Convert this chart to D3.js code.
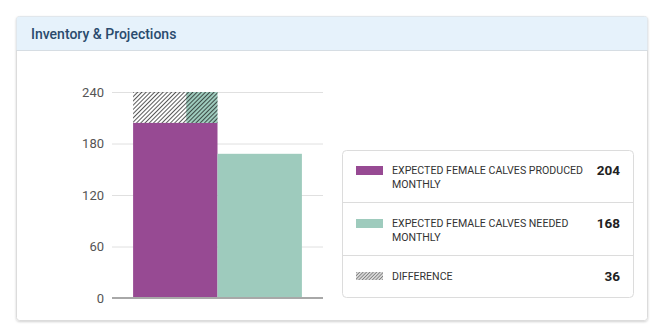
<!DOCTYPE html>
<html><head><meta charset="utf-8">
<script src="https://cdn.jsdelivr.net/npm/d3@7"></script>
<style>
html,body{margin:0;padding:0;background:#fff;}
svg{display:block;font-family:Roboto, "Noto Sans", sans-serif;}
</style></head>
<body><svg id="c" width="659" height="334"></svg>
<script>
const title = "Inventory & Projections";
const categories = ["Produced", "Needed"];
const produced = 204;
const needed = 168;
const difference = 36;
const yTicks = [0, 60, 120, 180, 240];
const legendLabels = ["EXPECTED FEMALE CALVES PRODUCED MONTHLY", "EXPECTED FEMALE CALVES NEEDED MONTHLY", "DIFFERENCE"];
const legendValues = [produced, needed, difference];
const colors = {produced: "#974a93", needed: "#9ecbbd"};

const svg = d3.select("#c");
const defs = svg.append("defs");
const shadow = defs.append("filter").attr("id","sh").attr("x","-5%").attr("y","-5%").attr("width","110%").attr("height","115%");
shadow.append("feDropShadow").attr("dx",0).attr("dy",1).attr("stdDeviation",1.2).attr("flood-color","#000").attr("flood-opacity",0.18);

const hatch = defs.append("pattern").attr("id","hatch").attr("patternUnits","userSpaceOnUse")
  .attr("width",3).attr("height",3).attr("patternTransform","rotate(45)");
hatch.append("line").attr("x1",0).attr("y1",0).attr("x2",0).attr("y2",3).attr("stroke","#111").attr("stroke-width",1.4);
const hatch2 = defs.append("pattern").attr("id","hatch2").attr("patternUnits","userSpaceOnUse")
  .attr("width",2.4).attr("height",2.4).attr("patternTransform","rotate(45)");
hatch2.append("rect").attr("width",2.4).attr("height",2.4).attr("fill","#d8d8d8");
hatch2.append("line").attr("x1",0).attr("y1",0).attr("x2",0).attr("y2",2.4).attr("stroke","#555").attr("stroke-width",1.1);

// panel
svg.append("rect").attr("x",16.5).attr("y",16.5).attr("width",631).attr("height",304).attr("rx",3)
  .attr("fill","#fff").attr("stroke","#dcdcdc").attr("filter","url(#sh)");
svg.append("path").attr("d","M16.5,50 V19.5 a3,3 0 0 1 3,-3 H644.5 a3,3 0 0 1 3,3 V50 Z").attr("fill","#e6f2fb");
svg.append("line").attr("x1",16.5).attr("x2",647.5).attr("y1",50.5).attr("y2",50.5).attr("stroke","#d6dde3");
svg.append("text").attr("x",31).attr("y",38.5).text(title)
  .attr("font-size",14).attr("font-weight",500).attr("fill","#2a4b6d");

// scales
const y = d3.scaleLinear().domain([0,240]).range([298,92]);
const x = d3.scaleBand().domain(categories).range([112,323]).paddingInner(0).paddingOuter(0.25);

const yAxis = d3.axisLeft(y).tickValues(yTicks).tickSize(-(323-112)).tickPadding(8);
const ga = svg.append("g").attr("transform","translate(112,0)").call(yAxis);
ga.select(".domain").remove();
ga.selectAll(".tick line").attr("stroke","#e0e0e0");
ga.selectAll(".tick text").attr("font-size",13).attr("fill","#555").attr("font-family","Roboto, sans-serif");

// bars
const values = [produced, needed];
const barColors = [colors.produced, colors.needed];
svg.selectAll("rect.bar").data(categories).enter().append("rect").attr("class","bar")
  .attr("x",d=>x(d)).attr("width",x.bandwidth())
  .attr("y",(d,i)=>y(values[i])).attr("height",(d,i)=>y(0)-y(values[i]))
  .attr("fill",(d,i)=>barColors[i]);

// difference stacked on produced
const bx = x(categories[0]), bw = x.bandwidth();
svg.append("rect").attr("x",bx + bw*0.63).attr("width",bw*0.37)
  .attr("y",y(produced+difference)).attr("height",y(produced)-y(produced+difference)).attr("fill",colors.needed);
svg.append("rect").attr("x",bx).attr("width",bw)
  .attr("y",y(produced+difference)).attr("height",y(produced)-y(produced+difference)).attr("fill","url(#hatch)");

// baseline
svg.append("line").attr("x1",112).attr("x2",323).attr("y1",y(0)).attr("y2",y(0)).attr("stroke","#a8a8a8").attr("stroke-width",2);

// legend
svg.append("rect").attr("x",342.5).attr("y",150.5).attr("width",291).attr("height",147).attr("rx",4)
  .attr("fill","#fff").attr("stroke","#dcdcdc");
[202.5,255.5].forEach(v=>svg.append("line").attr("x1",343).attr("x2",633).attr("y1",v).attr("y2",v).attr("stroke","#dcdcdc"));
const swFills = [colors.produced, colors.needed, "url(#hatch2)"];
const swY = [166, 219, 272];
legendLabels.forEach((lab,i)=>{
  svg.append("rect").attr("x",356).attr("y",swY[i]).attr("width",27).attr("height",i==2?8:9).attr("fill",swFills[i]);
  const t = svg.append("text").attr("x",392).attr("y",swY[i]+7.5).attr("font-size",10.6).attr("fill","#333");
  const words = lab.split(" ");
  let line = [], tsp = t.append("tspan").attr("x",392).attr("dy",0);
  words.forEach(w=>{
    line.push(w); tsp.text(line.join(" "));
    if (tsp.node().getComputedTextLength() > 195 && line.length>1){
      line.pop(); tsp.text(line.join(" ")); line=[w];
      tsp = t.append("tspan").attr("x",392).attr("dy",14.3).text(w);
    }
  });
  svg.append("text").attr("x",620).attr("y",swY[i]+8.5).attr("text-anchor","end")
    .attr("font-size",13.5).attr("font-weight",700).attr("fill","#222").text(legendValues[i]);
});
</script></body></html>
